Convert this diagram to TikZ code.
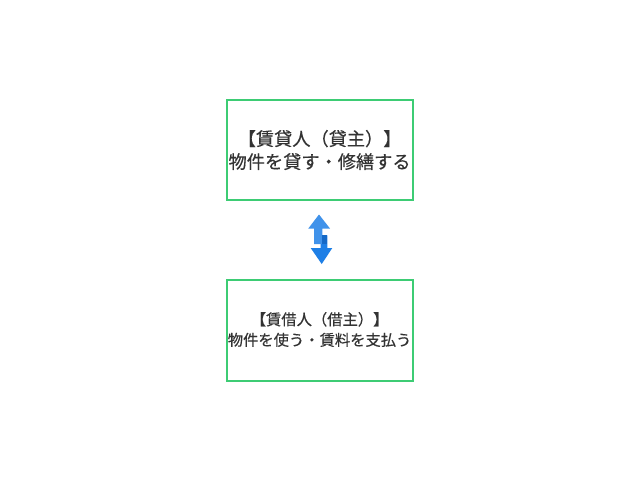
\documentclass[tikz,border=0pt]{standalone}
\usepackage{fontspec}
\newfontfamily\cjk[FakeBold=0.4]{Noto Sans CJK JP}
\definecolor{boxgreen}{HTML}{3DCC74}
\definecolor{txtgrey}{HTML}{333333}
\definecolor{arrblue}{HTML}{1E7FE6}
\definecolor{arrdark}{HTML}{1569C7}
\begin{document}
\begin{tikzpicture}[x=1pt,y=-1pt,
  rolebox/.style={draw=boxgreen,line width=2pt},
  roletext/.style={text=txtgrey,align=center,inner sep=0pt}]
\useasboundingbox (0,0) rectangle (640,480);
\fill[white] (0,0) rectangle (640,480);
% boxes
\draw[rolebox] (226.5,99.8) rectangle (413.2,200.3);
\coordinate (b1c) at (319.6,150);
\draw[rolebox] (226.5,279.8) rectangle (413.2,381.2);
\coordinate (b2c) at (319.6,329.5);
\node[roletext,font=\cjk\fontsize{18.2}{23}\selectfont] (lessor) at (b1c) {【賃貸人（貸主）】\\物件を貸す・修繕する};
\node[roletext,font=\cjk\fontsize{15.3}{20.5}\selectfont] (lessee) at (b2c) {【賃借人（借主）】\\物件を使う・賃料を支払う};
% double arrow icon
\fill[arrblue] (320.7,235.3) -- (327.3,235.3) -- (327.3,248) -- (332.3,248) -- (321.7,264) -- (310.7,248) -- (320.7,248) -- cycle;
\fill[arrblue!85!white] (319,214.5) -- (330,228.5) -- (322.3,228.5) -- (322.3,244) -- (314,244) -- (314,228.5) -- (308.3,228.5) -- cycle;
\fill[arrdark] (322.3,235.3) -- (327.3,235.3) -- (327.3,244) -- (322.3,244) -- cycle;
\end{tikzpicture}
\end{document}
